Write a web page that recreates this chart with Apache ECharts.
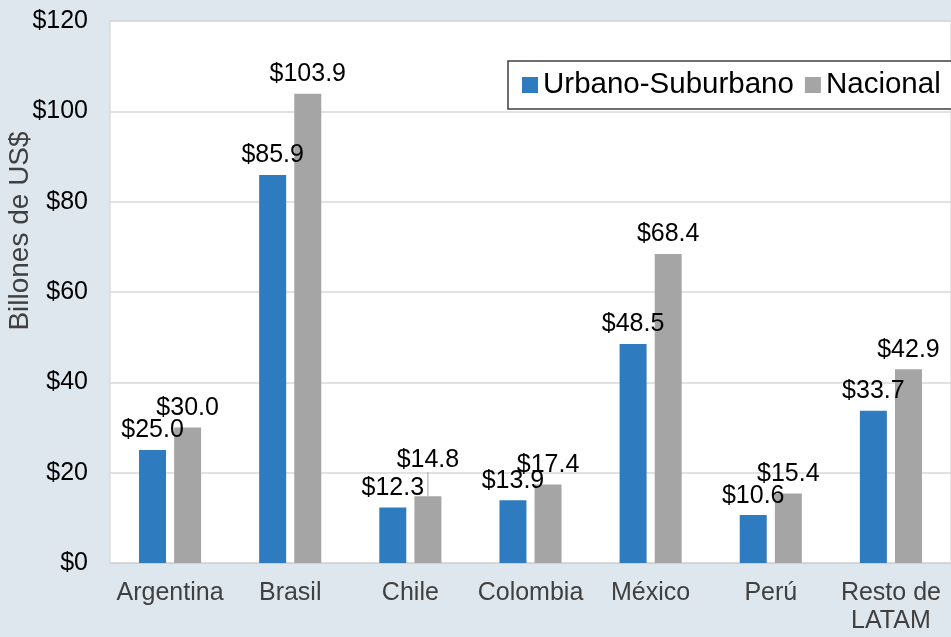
<!DOCTYPE html>
<html>
<head>
<meta charset="utf-8">
<script src="https://cdn.jsdelivr.net/npm/echarts@6/dist/echarts.min.js"></script>
<style>
  html, body { margin: 0; padding: 0; background: #dfe7ee; }
  #chart { width: 951px; height: 637px; }
</style>
</head>
<body>
<div id="chart"></div>
<script>
var categories = ["Argentina", "Brasil", "Chile", "Colombia", "México", "Perú", "Resto de\nLATAM"];
var urbano = [25.0, 85.9, 12.3, 13.9, 48.5, 10.6, 33.7];
var nacional = [30.0, 103.9, 14.8, 17.4, 68.4, 15.4, 42.9];
var seriesNames = ["Urbano-Suburbano", "Nacional"];
var axisTitle = "Billones de US$";

var chart = echarts.init(document.getElementById("chart"));

var labelStyle = {
  show: true,
  position: "top",
  distance: 7,
  color: "#000",
  fontSize: 25,
  fontFamily: "Liberation Sans",
  formatter: function (p) {
    return "$" + p.value.toFixed(1);
  }
};

// Chile's Nacional label sits higher in the original, with a leader line
var nacionalData = nacional.map(function (v, i) {
  if (i === 2) {
    return { value: v, labelLine: { show: true } };
  }
  return v;
});

var option = {
  backgroundColor: "#dfe7ee",
  textStyle: { fontFamily: "Liberation Sans" },
  grid: {
    left: 110,
    right: 0,
    top: 21,
    bottom: 74,
    outerBoundsMode: "none",
    show: true,
    backgroundColor: "#ffffff",
    borderColor: "#d0d0d0",
    borderWidth: 1
  },
  legend: {
    left: 508,
    top: 61,
    width: 480,
    itemWidth: 16,
    itemHeight: 16,
    itemGap: 11,
    padding: [9, 30, 9, 14],
    borderColor: "#404040",
    borderWidth: 1.5,
    backgroundColor: "#fff",
    icon: "rect",
    textStyle: { fontSize: 29.5, color: "#000", fontFamily: "Liberation Sans" },
    data: seriesNames
  },
  graphic: [{
    type: "text",
    x: 20,
    y: 231,
    rotation: Math.PI / 2,
    style: {
      text: axisTitle,
      fill: "#404040",
      fontSize: 28,
      fontFamily: "Liberation Sans",
      align: "center",
      verticalAlign: "middle"
    }
  }],
  xAxis: {
    type: "category",
    data: categories,
    axisLine: { lineStyle: { color: "#d0d0d0" } },
    axisTick: { show: false },
    axisLabel: {
      interval: 0,
      color: "#404040",
      fontSize: 25,
      margin: 16,
      lineHeight: 28
    }
  },
  yAxis: {
    type: "value",
    min: 0,
    max: 120,
    interval: 20,
    axisLabel: {
      color: "#000",
      fontSize: 25,
      margin: 22,
      formatter: "${value}"
    },
    axisLine: { show: false },
    axisTick: { show: false },
    splitLine: { lineStyle: { color: "#d9d9d9", width: 1.5 } }
  },
  series: [
    {
      name: seriesNames[0],
      type: "bar",
      data: urbano,
      barWidth: 27,
      barGap: "30%",
      itemStyle: { color: "#2e7bbf" },
      label: labelStyle
    },
    {
      name: seriesNames[1],
      type: "bar",
      data: nacionalData,
      barWidth: 27,
      itemStyle: { color: "#a5a5a5" },
      label: labelStyle,
      labelLine: { show: false, lineStyle: { color: "#a5a5a5", width: 1 } },
      labelLayout: function (p) {
        return p.dataIndex === 2 ? { dy: -17 } : {};
      }
    }
  ]
};

chart.setOption(option);
</script>
</body>
</html>
